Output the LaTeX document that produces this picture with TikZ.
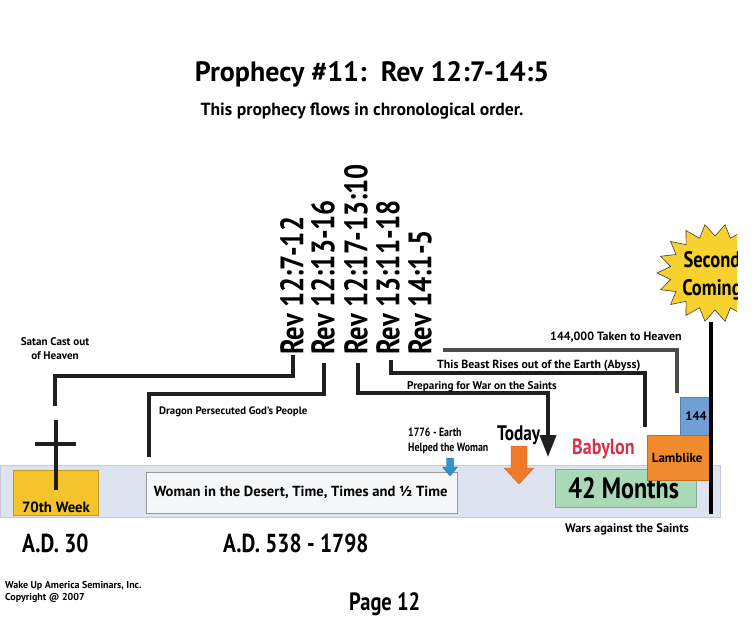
\documentclass[tikz,border=0pt]{standalone}
\usepackage{fontspec}
\setmainfont{PT Sans}
\newfontfamily\narrow{PT Sans}[FakeStretch=0.82]
\usetikzlibrary{arrows.meta}
\newcommand\fsz[1]{\fontsize{#1pt}{\dimexpr #1pt*5/4\relax}\selectfont}
\definecolor{bandc}{HTML}{DDE4F0}
\definecolor{bandd}{HTML}{C3CAD8}
\definecolor{weekc}{HTML}{F5C32C}
\definecolor{womanc}{HTML}{F6F7F9}
\definecolor{greenc}{HTML}{A9D9B7}
\definecolor{lambc}{HTML}{F08A2C}
\definecolor{todayc}{HTML}{EF7A2A}
\definecolor{bluec}{HTML}{6F9FD6}
\definecolor{babc}{HTML}{D6334A}
\definecolor{arrc}{HTML}{2F95C8}
\definecolor{starc}{HTML}{F7D12E}
\begin{document}
\begin{tikzpicture}[x=1pt,y=-1pt,
  every node/.style={inner sep=0pt, font=\bfseries},
  txt/.style={font=\bfseries\fsz{#1}},
  ntxt/.style={font=\narrow\bfseries\fsz{#1}},
  rev/.style={rotate=90, anchor=west, font=\narrow\bfseries\fsz{32.5}},
  lbl/.style={font=\bfseries\fsz{#1}, anchor=base west},
  lbl/.default=11.2,
  conn/.style={line width=4pt, black!88},
  conngray/.style={line width=3.2pt, black!70},
  box/.style={draw=#1!80!black, line width=0.4pt, fill=#1, anchor=north west}]
\useasboundingbox (0,0) rectangle (755,636);
\fill[white] (0,0) rectangle (755,636);

% title
\node[txt=28, anchor=base] (title) at (372,82) {Prophecy \#11:\ \ Rev 12:7-14:5};
\node[txt=17.6, anchor=base] (sub) at (362,116) {This prophecy flows in chronological order.};

% timeline band
\node[box=bandc, draw=bandd, minimum width=720pt, minimum height=52pt] (band) at (0,465) {};
\node[box=weekc, minimum width=85pt, minimum height=45pt] (week) at (13,470) {};
\node[txt=14.8, anchor=base] (weekt) at (56,512) {70th Week};
\node[box=womanc, draw=black!40, minimum width=311pt, minimum height=41pt] (woman) at (146,472) {};
\node[txt=14.6] (womant) at ([xshift=-1pt]woman.center) {Woman in the Desert, Time, Times and ½ Time};
\node[box=greenc, minimum width=141pt, minimum height=38pt] (green) at (555,469) {};
\node[ntxt=29.4] (greent) at ([xshift=-2pt]green.center) {42 Months};
\node[box=lambc, minimum width=62pt, minimum height=45pt] (lamb) at (647,435) {};
\node[txt=13] (lambt) at ([xshift=-1pt]lamb.center) {Lamblike};
\node[box=bluec, minimum width=29pt, minimum height=38pt] (b144) at (680,397) {};
\node[txt=12.5, anchor=east] (b144t) at ([xshift=-2.5pt]b144.east) {144};

% starburst
\begin{scope}
\clip (0,0) rectangle (737,636);
\fill[starc, draw=black!75, line width=0.6pt] plot[samples at={0,...,35}, variable=\k]
  ({715+ifthenelse(isodd(\k),45,58)*cos(\k*10)}, {273+ifthenelse(isodd(\k),37,49)*sin(\k*10)}) -- cycle;
\node[ntxt=22.5, align=center, anchor=north] (star) at (712,251) {Second\\Coming};
\end{scope}
\coordinate (sc) at (711,322);
\coordinate (se) at (711,514);
\draw[line width=4.5pt] (sc) -- (se);

% rev labels
\node[rev] (r1) at (292,355) {Rev 12:7-12};
\node[rev] (r2) at (323,355) {Rev 12:13-16};
\node[rev] (r3) at (356,355) {Rev 12:17-13:10};
\node[rev] (r4) at (388,355) {Rev 13:11-18};
\node[rev] (r5) at (420,355) {Rev 14:1-5};

% connector corners and ends
\coordinate (k1) at (55,376);  \coordinate (e1) at (55,406);
\coordinate (k2) at (149,394); \coordinate (e2) at (149,457);
\coordinate (k3) at (548,393); \coordinate (e3) at (548,457);
\coordinate (k4) at (645,373); \coordinate (e4) at (645,427);
\coordinate (e5) at (677,393);

\draw[conn] ([xshift=1pt]r1.west) |- (k1) -- (e1);
\draw[conn] ([xshift=1pt]r2.west) ++(0,8) |- (k2) -- (e2);
\draw[conn, -{Triangle[width=16pt,length=22pt]}] ([xshift=2pt]r3.west) ++(0,8) |- (k3) -- (e3);
\draw[conn] ([xshift=3pt]r4.west) ++(0,5) |- (k4) -- (e4);
\draw[conngray] (r5.south west) ++(11,-5) -| (e5);

% cross
\coordinate (ct) at (56,420); \coordinate (cb) at (56,490);
\coordinate (cl) at (35,444); \coordinate (cr) at (76,444);
\draw[conn] (ct) -- (cb);
\draw[conn] (cl) -- (cr);

% labels
\node[lbl=11.1, align=center, anchor=north] (satan) at (55,337) {Satan Cast out\\of Heaven};
\node[lbl=10.8] (drag) at (159,414) {Dragon Persecuted God's People};
\node[lbl=11.2] (prep) at (407,389) {Preparing for War on the Saints};
\node[lbl=11.8] (beast) at (437,368) {This Beast Rises out of the Earth (Abyss)};
\node[lbl=12] (taken) at (550,341) {144,000 Taken to Heaven};
\node[lbl, font=\narrow\bfseries\fsz{12}, align=left, anchor=north west] (earth) at (408,428) {1776 - Earth\\Helped the Woman};
\node[ntxt=21, anchor=base west] (today) at (497,440) {Today};
\node[ntxt=22, anchor=base west, text=babc] (baby) at (572,454) {Babylon};
\node[lbl=12.4] (wars) at (565,532) {Wars against the Saints};
\node[ntxt=26, anchor=base west] (ad30) at (22,552) {A.D. 30};
\node[ntxt=26, anchor=base west] (ad538) at (223,552) {A.D. 538 - 1798};
\node[lbl, font=\bfseries\fsz{10}, align=left, anchor=north west] (wake) at (5,581) {Wake Up America Seminars, Inc.\\Copyright @ 2007};
\node[ntxt=25, anchor=base west] (page) at (349,610) {Page 12};

% small arrows
\fill[arrc, draw=arrc!70!black, line width=0.3pt] (446.5,458) -- (453.5,458) -- (453.5,467) -- (457.5,467) -- (450,476) -- (442.5,467) -- (446.5,467) -- cycle;
\fill[todayc, draw=todayc!80!black, line width=0.3pt] (511,446) -- (527,446) -- (527,468) -- (534,468) -- (519,484) -- (504,468) -- (511,468) -- cycle;
\end{tikzpicture}
\end{document}
